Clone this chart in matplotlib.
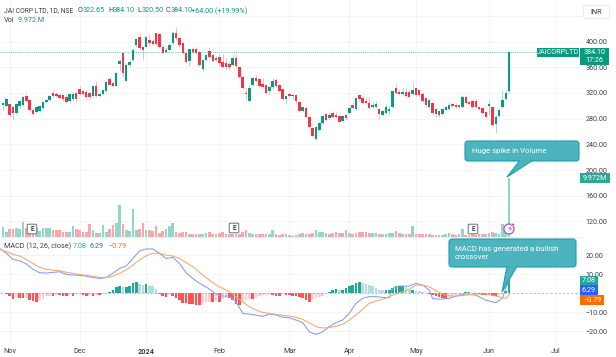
import matplotlib
matplotlib.use("Agg")
import matplotlib.pyplot as plt
from matplotlib.patches import FancyBboxPatch, Polygon, Rectangle, Circle
from matplotlib.transforms import Affine2D

plt.rcParams['font.family'] = ['Roboto', 'DejaVu Sans']

# daily candles
opens = [300.7,299.6,302.7,298.6,289,299.6,301,315,309,293.4,
         290.8,292,296,306,309,320,318,316.7,316,313,
         307.4,310,320,325.6,323.5,321,320,315,331,315,
         318,323.5,341,335,331,365,381.6,339,363.5,372,
         394.6,406.5,391,392,402,401,412.7,411.7,392,384,
         387,397,414,405,398,382.6,370,389,389,384,
         356.7,371,385.7,379,372,376.4,368.6,367,364.5,363.5,
         375,360.8,345,320.4,308,332,344,341,334,332,
         323.5,329.7,340,332,325.6,311,318,315,316.7,306.4,
         292.4,297,282,264.9,247.7,263,273.7,286.7,280.4,288,
         285.6,284,276.8,285.6,288,301,295,316.7,311.5,308,
         304.8,297.5,297.5,295,285.6,289,292.4,297.5,327,322,
         318,322,322,319,327,324.5,319,311.5,298.6,303.8,
         287,292,287,293.4,295,302.7,301.7,301,297.5,314,
         306,308,308,297.5,296,290.8,299.6,297.5,271.6,284,
         297.5,310.5,322.65]
highs = [306,313,305,300,304,309,317,318,310,296,
         300,301,308,311,317,324,322,320,319,316,
         320,321,322,331,325,324,322,332,338,321,
         326,339,345,337,353,373,384,366,371,389,
         405,412,393,409,411,404,414,413,394,391,
         397,416,423,407,400,384,389,391,391,386,
         373,381,392,381,377,381,381,375,370,380,
         380,362,346,327,333,345,348,343,344,334,
         331,344,343,334,327,317,320,318,318,308,
         299,299,283,267,269,275,286,290,290,292,
         290,286,286,287,298,304,313,318,315,312,
         313,306,308,297,294,302,300,325,334,326,
         329,327,325,335,329,326,321,313,311,306,
         296,294,296,300,306,305,304,303,316,316,
         308,310,310,299,298,292,309,299,285,295,
         324,325,384.1]
lows = [294,298,283,279,287,297,299,306,292,285,
        288,290,295,304,307,313,313,310,308,305,
        305,308,306,316,317,311,311,313,313,314,
        316,322,330,329,330,354,345,338,360,370,
        392,387,371,391,395,394,394,390,381,383,
        385,396,403,392,381,366,362,381,380,362,
        354,369,375,368,370,364,359,358,356,362,
        360,344,326,309,307,330,337,328,328,318,
        316,328,329,322,309,302,313,311,305,291,
        290,281,266,252,246,261,272,276,278,281,
        281,273,275,278,287,295,294,308,303,302,
        295,296,296,280,284,287,287,296,319,316,
        316,313,312,317,315,315,306,298,297,286,
        283,282,285,292,294,298,297,296,296,303,
        301,296,296,293,287,281,285,269,258,283,
        296,309,320.5]
closes = [303.8,310,285.6,288.2,302.7,307.4,314,308,293.4,287,
          298.6,299.6,306.4,309,315,315,315,311.6,310,306.4,
          318,319,310,318,319,313,313,330,315,319,
          324.5,337.5,332,331,351.5,370,351.5,363.5,368.6,386.8,
          403.4,389.4,386.8,407.5,397,396,396,392,382.6,387,
          394.6,413.7,405,394.6,382.6,368.6,387.8,384,382.6,363.5,
          371,379,376.4,370,375,366,360.8,360.8,360.8,373.8,
          362,345.3,328,317.8,327,343.7,338.5,330.8,329.7,320.4,
          329.7,338.5,330.8,323.5,310.5,315,315,316.7,307.4,292.4,
          297.5,282,267.5,253,267.5,273.7,284.6,277.8,285.6,283,
          283,275.2,284,280.4,296,296,311.5,310,304.8,303.8,
          296,301,302,287,292.4,297.5,294.4,323.5,320.4,318,
          322,315,314,324.5,316.7,316.7,308,301,309,288,
          294.4,285.6,294.4,297.5,301,299.6,298.6,297.5,314,304.8,
          302.7,297.5,297.5,294.4,288,283,302,270,282,293.4,
          309,319.3,384.1]

# volume in millions
volumes = [1.68,0.84,1.4,1.34,1.5,1.4,2.52,1.57,1.68,1.4,
           1.57,1.0,1.57,1.57,1.57,1.12,1.23,1.12,0.84,0.84,
           0.78,1.79,1.4,1.12,0.84,0.84,2.13,1.23,0.67,0.67,
           1.96,0.84,1.4,1.96,2.35,5.32,2.13,1.23,1.0,4.76,
           1.12,1.4,2.35,1.12,1.12,1.0,1.79,0.67,1.0,1.4,
           1.79,2.35,0.84,0.67,0.84,0.84,0.56,0.56,0.45,0.45,
           0.45,0.67,0.84,0.56,0.56,0.67,0.84,0.56,0.56,0.56,
           0.45,0.56,0.84,1.12,0.67,0.45,0.56,0.45,0.45,0.45,
           0.45,1.12,0.45,0.39,0.45,0.56,0.39,0.17,0.39,0.56,
           0.73,0.5,0.56,0.67,1.23,0.84,0.78,0.73,0.45,0.73,
           0.78,0.67,0.67,1.12,0.67,0.45,0.67,0.84,0.78,0.78,
           0.67,0.67,0.73,0.56,0.45,0.45,0.62,0.67,1.0,0.67,
           0.56,0.56,0.45,1.79,0.56,0.5,0.45,0.45,0.45,0.39,
           0.39,0.39,0.39,0.45,0.67,0.45,0.39,0.45,1.4,0.39,
           0.39,0.45,0.39,0.45,0.45,0.45,0.73,0.78,0.67,0.45,
           2.13,0.84,9.972]

macd_hist = [0,-.5,-1.8,-3.2,-2.1,-2.6,-2.8,-2.5,-3.9,-4.4,
             -4.7,-3.9,-3.2,-1.8,-1.4,-1.4,-.9,-1.2,-1.4,-1.4,
             -.9,-1.8,-.7,-.5,-.9,-1.6,-.9,-1.4,-1.2,-1.2,
             -.4,-.2,.4,1.4,3.2,3.5,3,3.2,3.5,5.3,
             5.6,4.9,4.4,4.9,3.9,3.5,2.1,-.4,-1.4,-2.1,
             -.5,-1.4,-2.5,-3.5,-5.3,-5.3,-5.6,-5.8,-6.1,-6.1,
             -5.3,-4.9,-4.6,-4.6,-4.4,-4.9,-3.2,-2.6,-2.6,-3.5,
             -5.6,-6.1,-4.4,-3.5,-3.2,-3.2,-2.6,-1.8,-1.2,-.9,
             -.7,-.9,-1.4,-1.4,-.7,-.9,-.9,-1.6,-1.8,-2.1,
             -2.6,-3.5,-4.9,-3.2,-2.6,-2.1,-1.4,-.5,.5,1.4,
             2.1,1.4,1.8,2.6,3.5,4.4,5.3,5.6,5.3,4.7,
             4.4,3.5,2.6,1.8,1.4,1.4,1.4,2.6,3.5,3.9,
             3.9,3.2,1.8,1.8,1.2,1,.7,.2,-.5,-.9,
             -1.4,-2.1,-2.6,-3.2,-1.8,-1.4,-1.2,-.9,-.5,.5,
             .5,.2,-.4,-.5,-.9,-1,-1.2,-1.4,-1.8,-1,
             -.5,.9,7.08]

macd_bars = [-1,1,3,5,7,9,11,13,15,17,19,21,23,25,27,29,31,33,35,37,39,41,43,45,47,49,51,53,55,57,59,60,
             62,64,66,68,70,72,74,76,78,80,82,84,86,88,90,92,94,96,98,100,102,104,106,108,110,112,114,116,117,119,
             122,124,126,128,129,131,134,137,139,142,145,148,150,151,152]
macd_line = [23.5,20.9,17.7,17,15.3,12.5,10.7,10.5,10.9,11.2,9.8,9.5,9.3,8.9,8.2,7.7,8.1,10.4,13,14.2,18.2,22.1,23.2,23.2,20.9,18.2,18.8,15.6,10.7,7.7,5.1,4.2,
             2.1,-.5,-1.6,-1.6,-4.6,-10.7,-11.1,-11.6,-12.3,-11.1,-11.6,-12.8,-13,-14.2,-15.6,-20.4,-21.8,-20.4,-17.7,-15.6,-14.2,-10.7,-5.4,-2.8,-1.9,-1.9,-2.3,-2.5,2.5,3.7,
             3.6,5.1,4.2,1.6,-2.8,-3.3,-2.8,-1.1,-.5,-1.1,-3.7,-5.1,-2.8,2.5,6.29]
signal_bars = [-1,1,3,5,7,9,11,13,15,17,19,21,23,25,27,29,31,33,35,37,39,41,43,45,47,49,51,53,55,57,59,60,
               62,64,66,68,70,72,74,76,78,80,82,84,86,88,90,92,94,96,98,100,102,104,106,108,110,112,114,116,118,120,
               122,124,126,128,130,132,134,136,139,142,145,148,151,152]
signal_line = [23,21.8,20.4,19.5,17.7,15.6,13.5,12.5,12.1,11.8,10.9,10.4,9.8,9.3,8.8,8.2,8.2,8.8,10.4,12.1,14.7,17.4,19.6,20.9,20.9,20,19.5,18.2,16,13.9,10.9,9.5,
               6.8,4.2,2.5,.7,-1.9,-4.6,-7.2,-8.9,-10.2,-10.7,-11.2,-11.8,-12.1,-12.8,-13.9,-15.6,-17.7,-18.4,-18.2,-17.4,-16.5,-14.2,-11.6,-8.6,-5.4,-4.2,-3.3,-1.9,-.5,.7,
               1.9,4.2,4.2,3.3,1.2,-.5,-1.6,-1.6,-1.1,-.5,-.5,-1.6,-2.8,-.79]

month_bars = [2, 23, 43, 65, 86, 104, 124, 146, 166]
month_labels = ['Nov', 'Dec', '2024', 'Feb', 'Mar', 'Apr', 'May', 'Jun', 'Jul']
price_ticks = [120, 160, 200, 240, 280, 320, 360, 400, 440]
price_labels = ['120.00', '160.00', '200.00', '240.00', '280.00', '320.00', '360.00', '400.00', '']
macd_ticks = [-20, -10, 10, 20]

UP = '#089981'
DOWN = '#f23645'
GRID = '#f3f4f6'
TXT = '#3a3e4a'
FS = 5.2

W, H = 616, 357
fig = plt.figure(figsize=(W / 100, H / 100), dpi=100, facecolor='white')
# lets annotations be placed in screen pixels, y going down
px = Affine2D().scale(1 / W, -1 / H).translate(0, 1) + fig.transFigure

PANE_R, SPLIT, BOTTOM = 583, 237, 343
ax = fig.add_axes([0, 1 - SPLIT / H, PANE_R / W, SPLIT / H])
ax_vol = ax.twinx()
ax_macd = fig.add_axes([0, 1 - BOTTOM / H, PANE_R / W, (BOTTOM - SPLIT) / H])

bars = list(range(len(closes)))
colors = [UP if c >= o else DOWN for o, c in zip(opens, closes)]

ax.vlines(bars, lows, highs, colors=colors, linewidth=0.6, alpha=0.4)
ax.bar(bars, [abs(c - o) for o, c in zip(opens, closes)], bottom=[min(o, c) for o, c in zip(opens, closes)],
       width=0.75, color=colors, linewidth=0)
ax.axhline(closes[-1], color=UP, linestyle=(0, (1.5, 1.5)), linewidth=0.5, alpha=0.8)
ax.set_xlim(-0.9, 174.2)
ax.set_ylim(95.8, 464.6)
ax.set_yticks(price_ticks, price_labels)

vol_colors = ['#93d5c9' if c == UP else '#f7a9a7' for c in colors]
ax_vol.bar(bars, volumes, width=0.8, color=vol_colors, linewidth=0)
ax_vol.set_ylim(0, 39.8)
ax_vol.axis('off')

hist_colors = []
for i, v in enumerate(macd_hist):
    prev = macd_hist[i - 1] if i > 0 else v
    if v >= 0:
        hist_colors.append('#26a69a' if v >= prev else '#b2dfdb')
    else:
        hist_colors.append('#ff5252' if v <= prev else '#ffcdd2')
ax_macd.bar(bars, macd_hist, width=0.8, color=hist_colors, linewidth=0)
ax_macd.plot(macd_bars, macd_line, color='#7f9ef5', linewidth=0.75)
ax_macd.plot(signal_bars, signal_line, color='#f7a76c', linewidth=0.75)
ax_macd.axhline(0, color='#9a9ea8', linestyle=(0, (3, 3)), linewidth=0.5)
ax_macd.set_xlim(-0.9, 174.2)
ax_macd.set_ylim(-26.3, 29.5)
ax_macd.set_yticks(macd_ticks, ['%.2f' % t if t > 0 else '\u2212%.2f' % -t for t in macd_ticks])

for a in [ax, ax_macd]:
    a.set_xticks(month_bars)
    a.grid(True, color=GRID, linewidth=0.7)
    a.set_axisbelow(True)
    a.yaxis.tick_right()
    a.tick_params(axis='y', length=0, pad=2, labelsize=FS, labelcolor=TXT)
    a.tick_params(axis='x', length=0)
    for s in a.spines.values():
        s.set_visible(False)
ax.tick_params(axis='x', labelbottom=False)
ax_macd.set_xticklabels(month_labels)
ax_macd.tick_params(axis='x', labelsize=FS, labelcolor=TXT, pad=3.5)
ax_macd.get_xticklabels()[2].set_fontweight('bold')
ax_macd.plot([0, 1], [1, 1], transform=ax_macd.transAxes, color='#eceef1', linewidth=0.7, clip_on=False)


def label(x, y, s, color=TXT, size=FS, **kw):
    fig.text(x, y, s, transform=px, color=color, fontsize=size, va='center', **kw)


def box(x0, y0, x1, y1, color, text, size=FS):
    fig.add_artist(Rectangle((x0, y0), x1 - x0, y1 - y0, transform=px, facecolor=color, edgecolor='none'))
    label((x0 + x1) / 2, (y0 + y1) / 2, text, color='white', size=size, ha='center', linespacing=1.05)


def callout(x0, y0, x1, y1, base0, base1, tip, lines, text_x):
    fill, edge = '#4cb3bf', '#1d9fac'
    fig.add_artist(FancyBboxPatch((x0 + 2, y0 + 2), x1 - x0 - 4, y1 - y0 - 4, boxstyle='round,pad=2,rounding_size=3',
                                  transform=px, facecolor=fill, edgecolor=edge, linewidth=0.8))
    fig.add_artist(Polygon([(base0, y1 - 0.8), tip, (base1, y1 - 0.8)], closed=False, transform=px,
                           facecolor=fill, edgecolor=edge, linewidth=0.8))
    for y, s in lines:
        label(text_x, y, s, color='white', size=5.6)


# legend rows
label(4, 11, 'JAI CORP LTD, 1D, NSE', size=4.9)
for x, key, val in [(78, 'O', '322.65'), (108, 'H', '384.10'), (137, 'L', '320.50'), (166, 'C', '384.10')]:
    label(x, 11, key)
    label(x + 4.5, 11, val, color=UP)
label(191, 11, '+64.00 (+19.99%)', color=UP)
label(4, 20, 'Vol')
label(18, 20, '9.972 M', color=UP)
label(4, 246, 'MACD (12, 26, close)')
label(73, 246, '7.08', color='#26a69a')
label(90, 246, '6.29', color='#2962ff')
label(108, 246, '\u22120.79', color='#ff6d00')

# scale tags
fig.add_artist(FancyBboxPatch((585, 7), 23, 10, boxstyle='round,pad=1.5,rounding_size=2', transform=px,
                              facecolor='white', edgecolor='#e6e8ed', linewidth=0.6))
label(596.5, 12, 'INR', ha='center')
box(537, 48, 579, 57, UP, 'JAICORPLTD')
box(580, 48, 609, 65, UP, '384.10\n17:26')
box(580, 173, 610, 183, '#2fa796', '9.972M')
box(580, 276, 598, 285, '#26a69a', '7.08')
box(580, 285, 598, 295, '#2962ff', '6.29')
box(580, 295, 604, 305, '#ff6d00', '\u22120.79')

# earnings markers
for x, y in [(32, 229), (234, 228), (473, 229)]:
    fig.add_artist(FancyBboxPatch((x - 4, y - 4), 8, 8, boxstyle='round,pad=0.8,rounding_size=1', transform=px,
                                  facecolor='white', edgecolor='#6a6d78', linewidth=0.7))
    label(x, y, 'E', size=4.8, ha='center', fontweight='bold')
fig.add_artist(Circle((509, 229), 5, transform=px, facecolor='white', edgecolor='#b04ccf', linewidth=0.9))
label(509, 229, '\u26a1', color='#b04ccf', size=6.5, ha='center', family=['DejaVu Sans'])
fig.add_artist(Circle((513, 224.5), 1.2, transform=px, facecolor='#f23645', edgecolor='white', linewidth=0.3))

callout(465, 141, 579, 161, 520, 533, (507, 177), [(151, 'Huge spike in Volume')], 472)
callout(449, 239, 576, 267, 507, 517, (502, 292), [(249, 'MACD has generated a bullish'), (257, 'crossover')], 455)

fig.savefig('out.png', dpi=100)
